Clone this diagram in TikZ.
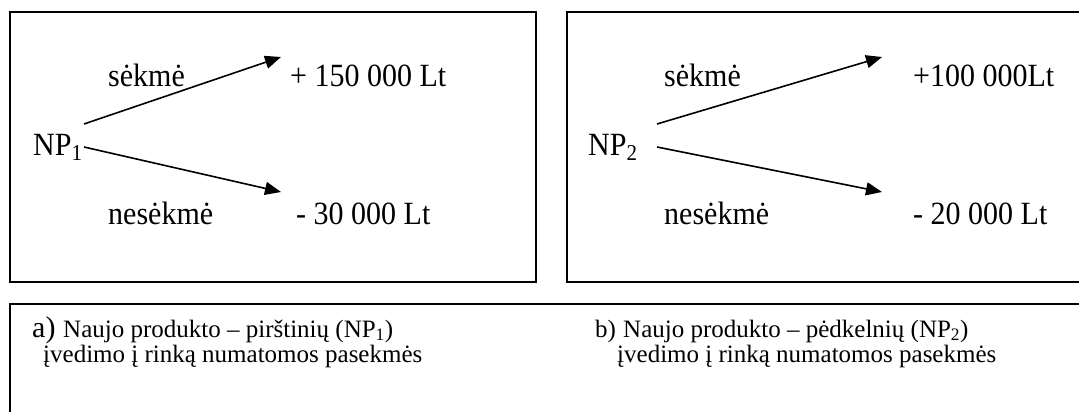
\documentclass[tikz,border=0pt]{standalone}
\usepackage{fontspec}
\setmainfont{Liberation Serif}
\usetikzlibrary{arrows.meta}

\tikzset{
  frame/.style={draw=black, line width=1.8pt},
  big/.style={inner sep=0pt, anchor=base west, font=\fontsize{30}{36}\selectfont},
  small/.style={inner sep=0pt, anchor=base west, font=\fontsize{25}{30}\selectfont},
  branch/.style={line width=1.6pt, -{Triangle[length=16pt,width=13pt]}}
}
\newcommand{\tallish}[1]{\scalebox{1}[1.08]{#1}}

\begin{document}
\begin{tikzpicture}[x=1pt, y=-1pt]
  \useasboundingbox (0,0) rectangle (1079,412);
  \clip (0,0) rectangle (1079,412);
  \fill[white] (0,0) rectangle (1079,412);

  % frames
  \draw[frame] (10,12) rectangle (536,282);
  \draw[frame] (567,12) rectangle (1090,282);
  \draw[frame] (10,304) rectangle (1090,430);

  % left tree: NP1
  \node[big] (np1)  at (33,155)  {\tallish{NP\textsubscript{1}}};
  \node[big] (s1)   at (108,87)  {\tallish{sėkmė}};
  \node[big] (v1a)  at (290,87)  {\tallish{+ 150 000 Lt}};
  \node[big] (n1)   at (108,224) {\tallish{nesėkmė}};
  \node[big] (v1b)  at (296,224) {\tallish{- 30 000 Lt}};
  \coordinate (o1a) at (84,124);
  \coordinate (o1b) at (84,147);
  \coordinate (e1a) at (281,57);
  \coordinate (e1b) at (281,192);
  \draw[branch] (o1a) -- (e1a);
  \draw[branch] (o1b) -- (e1b);

  % right tree: NP2
  \node[big] (np2)  at (588,155) {\tallish{NP\textsubscript{2}}};
  \node[big] (s2)   at (664,86)  {\tallish{sėkmė}};
  \node[big] (v2a)  at (913,86)  {\tallish{+100 000Lt}};
  \node[big] (n2)   at (664,224) {\tallish{nesėkmė}};
  \node[big] (v2b)  at (913,224) {\tallish{- 20 000 Lt}};
  \coordinate (o2a) at (657,124);
  \coordinate (o2b) at (657,147);
  \coordinate (e2a) at (882,57);
  \coordinate (e2b) at (882,192);
  \draw[branch] (o2a) -- (e2a);
  \draw[branch] (o2b) -- (e2b);

  % captions
  \node[big]   (ca)  at (32,337)  {a)};
  \node[small] (ca1) at (63,337)  {Naujo produkto – pirštinių (NP\textsubscript{1})};
  \node[small] (ca2) at (43,362)  {įvedimo į rinką numatomos pasekmės};
  \node[small] (cb)  at (595,337) {b)};
  \node[small] (cb1) at (623,337) {Naujo produkto – pėdkelnių (NP\textsubscript{2})};
  \node[small] (cb2) at (617,362) {įvedimo į rinką numatomos pasekmės};
\end{tikzpicture}
\end{document}
